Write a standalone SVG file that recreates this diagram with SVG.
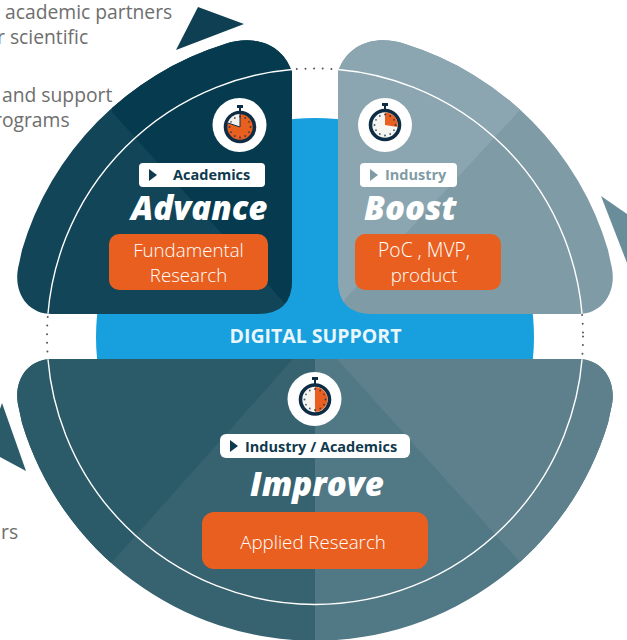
<svg xmlns="http://www.w3.org/2000/svg" xmlns:xlink="http://www.w3.org/1999/xlink" width="627" height="640" viewBox="0 0 627 640">
<style>
text{font-family:"Open Sans","Noto Sans","Liberation Sans",sans-serif}
.side{font-size:19.3px;fill:#6e6e6e}
.pill{fill:#fff}
.tag{font-size:14.5px;font-weight:700;fill:#0f3a4e}
.title{font-size:33px;font-weight:800;font-style:italic;fill:#fff}
.org{fill:#e95f20}
.lab{font-size:18.7px;font-weight:300;fill:#fff;text-anchor:middle}
.ring{fill:none;stroke:#fff;stroke-width:1.4}
.face{stroke:#0e2d45;stroke-width:3.6}
.knob{fill:#0e2d45}
.tick{fill:#0e2d45;opacity:.75}
</style>
<defs>
<clipPath id="ca"><path d="M292 72V280Q292 314 258 314H52C26 314 12 290 19 264L22 250A306 306 0 0 1 225 44C252 35 282 42 292 72Z"/></clipPath>
<clipPath id="cb"><path d="M338 72V280Q338 314 372 314H578C604 314 618 290 611 264L608 250A306 306 0 0 0 405 44C378 35 348 42 338 72Z"/></clipPath>
<clipPath id="ci"><path d="M52 359H578C604 359 618 383 611 409L608 423A306 306 0 0 1 22 423L19 409C12 383 26 359 52 359Z"/></clipPath>
<g id="ticks">
<circle cx="0" cy="-10.5" r="1"/><circle cx="5.2" cy="-9" r=".9"/><circle cx="9" cy="-5.2" r=".9"/><circle cx="10.5" cy="0" r="1"/><circle cx="9" cy="5.2" r=".9"/><circle cx="5.2" cy="9" r=".9"/><circle cx="0" cy="10.5" r="1"/><circle cx="-5.2" cy="9" r=".9"/><circle cx="-9" cy="5.2" r=".9"/><circle cx="-10.5" cy="0" r="1"/><circle cx="-9" cy="-5.2" r=".9"/><circle cx="-5.2" cy="-9" r=".9"/>
</g>
</defs>

<g id="side-text">
<text class="side" x="5" y="19">academic partners</text>
<text class="side" x="-3" y="44">r scientific</text>
<text class="side" x="2" y="102">and support</text>
<text class="side" x="-6" y="127">rograms</text>
<text class="side" x="1" y="539">rs</text>
</g>

<g id="arrows">
<polygon points="198,7 244,24 176,50" fill="#0f3f53"/>
<polygon points="601,196 627,214 627,263" fill="#6a8d9a"/>
<polygon points="0,409 2,403 26,471 0,457" fill="#2b5a69"/>
</g>

<g id="digital-support">
<circle cx="315" cy="337" r="219" fill="#189fdd"/>
<text x="315.500" y="343" font-size="19.500" font-weight="700" fill="#e9f6fc" text-anchor="middle">DIGITAL SUPPORT</text>
</g>

<g id="connectors">
<circle cx="315" cy="336.500" r="268" fill="none" stroke="#555" stroke-width="2" stroke-linecap="round" stroke-dasharray="0 8.700"/>
</g>

<g id="advance">
<g clip-path="url(#ca)">
<rect x="0" y="30" width="300" height="290" fill="#114557"/>
<polygon points="112,112 280,298 300,320 300,30 112,30" fill="#063a4e"/>
<circle class="ring" cx="315" cy="336.500" r="268"/>
</g>
<circle cx="239.500" cy="125" r="27" fill="#fff"/>
<path class="knob" d="M237 105h6v3h-2v4h-2v-4h-2z"/>
<circle class="face" cx="240" cy="127" r="14.500" fill="#e95f20"/>
<path d="M240 127V114A13 13 0 0 0 227.500 123Z" fill="#f4f1ec"/>
<path d="M240 114V127L228 123" fill="none" stroke="#0e2d45" stroke-width="1"/>
<use xlink:href="#ticks" href="#ticks" class="tick" transform="translate(240 127)"/>
<rect class="pill" x="139" y="163" width="126" height="24" rx="4"/>
<polygon points="149,169 157,175 149,181" fill="#0f3a4e"/>
<text class="tag" x="173" y="180">Academics</text>
<text class="title" x="131" y="220">Advance</text>
<rect class="org" x="109" y="234" width="159" height="56" rx="10"/>
<text class="lab" x="188.500" y="257">Fundamental</text>
<text class="lab" x="188.500" y="282">Research</text>
</g>

<g id="boost">
<g clip-path="url(#cb)">
<rect x="330" y="30" width="300" height="290" fill="#7f9ca6"/>
<polygon points="520,110 347,297 330,320 330,30 520,30" fill="#8ba6b0"/>
<circle class="ring" cx="315" cy="336.500" r="268"/>
</g>
<circle cx="385" cy="125" r="27" fill="#fff"/>
<path class="knob" d="M382 103h6v3h-2v4h-2v-4h-2z"/>
<circle class="face" cx="385" cy="125" r="14.500" fill="#f7f5f1"/>
<path d="M385 125V112.500A12.500 12.500 0 0 1 397.500 127Z" fill="#e95f20"/>
<use xlink:href="#ticks" href="#ticks" class="tick" transform="translate(385 125)"/>
<rect class="pill" x="360" y="163" width="97" height="24" rx="4"/>
<polygon points="370,169 378,175 370,181" fill="#7f9ca6"/>
<text class="tag" x="385" y="180" style="fill:#7f9ca6">Industry</text>
<text class="title" x="364" y="220">Boost</text>
<rect class="org" x="355" y="234" width="146" height="56" rx="10"/>
<text class="lab" x="424" y="257" style="font-size:19.3px">PoC , MVP,</text>
<text class="lab" x="424" y="282">product</text>
</g>

<g id="improve">
<g clip-path="url(#ci)">
<rect x="0" y="355" width="315" height="290" fill="#37626f"/>
<rect x="315" y="355" width="315" height="290" fill="#517885"/>
<polygon points="293,359 112,562 0,690 0,355 293,355" fill="#2b5a69"/>
<polygon points="337,359 520,562 630,690 630,355 337,355" fill="#5d808c"/>
<circle class="ring" cx="315" cy="336.500" r="268"/>
</g>
<circle cx="314.500" cy="399" r="27" fill="#fff"/>
<path class="knob" d="M312 377h6v3h-2v4h-2v-4h-2z"/>
<circle class="face" cx="315" cy="399.500" r="14.500" fill="#f7f5f1"/>
<path d="M315 387A12.500 12.500 0 0 1 315 412Z" fill="#e95f20"/>
<use xlink:href="#ticks" href="#ticks" class="tick" transform="translate(315 399.500)"/>
<rect class="pill" x="220" y="434" width="190" height="24" rx="6"/>
<polygon points="230,440 238,446 230,452" fill="#0f3a4e"/>
<text class="tag" x="245" y="451.500">Industry / Academics</text>
<text class="title" x="250" y="496">Improve</text>
<rect class="org" x="202" y="512" width="226" height="57" rx="12"/>
<text class="lab" x="313" y="549">Applied Research</text>
</g>
</svg>
